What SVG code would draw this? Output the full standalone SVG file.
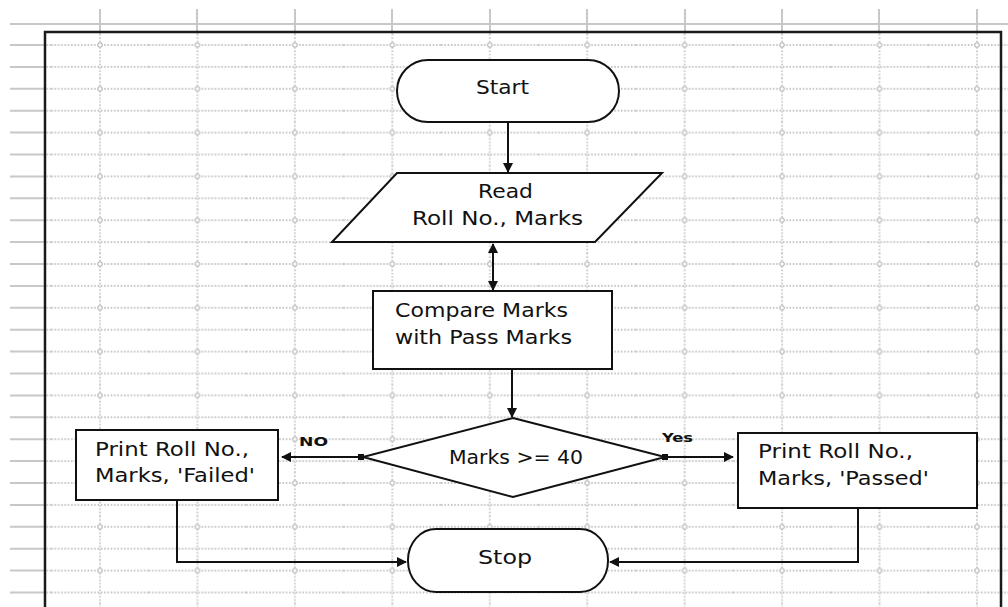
<svg xmlns="http://www.w3.org/2000/svg" xmlns:xlink="http://www.w3.org/1999/xlink" width="1008" height="607" viewBox="0 0 1008 607">
  <style>
    .shape { fill: #ffffff; stroke: #111111; stroke-width: 2; }
    .conn { fill: none; stroke: #111111; stroke-width: 2; }
    .lbl { font-family: "DejaVu Sans", "Liberation Sans", sans-serif; font-size: 19px; fill: #111111; }
    .small { font-family: "DejaVu Sans", "Liberation Sans", sans-serif; font-size: 13px; font-weight: bold; fill: #111111; }
    .dot { stroke: #b4b4b4; stroke-width: 1.3; stroke-dasharray: 1.6 1.7; fill: none; }
    .ruler { stroke: #c8c8c8; stroke-width: 2; fill: none; }
  </style>
  <defs>
    <pattern id="grid" patternUnits="userSpaceOnUse" x="51.28" y="34.05" width="97.44" height="43.8">
      <line class="dot" x1="0" y1="10.95" x2="97.44" y2="10.95"/>
      <line class="dot" x1="0" y1="32.85" x2="97.44" y2="32.85"/>
      <line class="dot" x1="48.72" y1="0" x2="48.72" y2="43.8"/>
      <circle cx="48.72" cy="10.95" r="2.2" fill="#ffffff" stroke="#b4b4b4" stroke-width="1"/>
    </pattern>
    <marker id="arrow" viewBox="0 0 10 10" refX="9" refY="5" markerWidth="10" markerHeight="10" markerUnits="userSpaceOnUse" orient="auto-start-reverse">
      <path d="M0 0 L10 5 L0 10 Z" fill="#111111"/>
    </marker>
    <marker id="tail" viewBox="0 0 6 6" refX="0" refY="3" markerWidth="6" markerHeight="6" markerUnits="userSpaceOnUse" orient="auto">
      <rect x="0" y="0" width="6" height="6" fill="#111111"/>
    </marker>
  </defs>

  <g id="background">
    <rect x="0" y="0" width="1008" height="607" fill="#ffffff"/>
    <rect x="45" y="32" width="963" height="575" fill="url(#grid)"/>
    <path class="ruler" d="M10 24H1008M100 9V32M197 9V32M295 9V32M392 9V32M490 9V32M587 9V32M685 9V32M782 9V32M879 9V32M977 9V32"/>
    <path class="ruler" stroke-width="1.6" d="M10 45H45M10 66.9H45M10 88.8H45M10 110.7H45M10 132.6H45M10 154.5H45M10 176.4H45M10 198.3H45M10 220.2H45M10 242.1H45M10 264H45M10 285.9H45M10 307.8H45M10 329.7H45M10 351.6H45M10 373.5H45M10 395.4H45M10 417.3H45M10 439.2H45M10 461.1H45M10 483H45M10 504.9H45M10 526.8H45M10 548.7H45M10 570.6H45M10 592.5H45"/>
    <path d="M45 610V32H1001V610" fill="none" stroke="#1a1a1a" stroke-width="2.5"/>
  </g>

  <g id="connectors">
    <path class="conn" d="M508 122V172" marker-end="url(#arrow)"/>
    <path class="conn" d="M493 244V290" marker-start="url(#arrow)" marker-end="url(#arrow)"/>
    <path class="conn" d="M512 369V417" marker-end="url(#arrow)"/>
    <path class="conn" d="M364 457H282" marker-start="url(#tail)" marker-end="url(#arrow)"/>
    <path class="conn" d="M662 457H733" marker-start="url(#tail)" marker-end="url(#arrow)"/>
    <path class="conn" d="M177 500V562H406" marker-end="url(#arrow)"/>
    <path class="conn" d="M858 508V562H610" marker-end="url(#arrow)"/>
    <text class="small" x="299" y="446" textLength="29" lengthAdjust="spacingAndGlyphs">NO</text>
    <text class="small" x="662" y="442" textLength="31" lengthAdjust="spacingAndGlyphs">Yes</text>
  </g>

  <g id="start">
    <rect class="shape" x="397" y="60" width="222" height="62" rx="31" ry="31"/>
    <text class="lbl" x="476" y="94" textLength="53" lengthAdjust="spacingAndGlyphs">Start</text>
  </g>

  <g id="read">
    <polygon class="shape" points="397,173 662,173 595,242 332,242"/>
    <text class="lbl" x="478" y="198" textLength="55" lengthAdjust="spacingAndGlyphs">Read</text>
    <text class="lbl" x="412" y="225" textLength="171" lengthAdjust="spacingAndGlyphs">Roll No., Marks</text>
  </g>

  <g id="compare">
    <rect class="shape" x="373" y="291" width="239" height="78"/>
    <text class="lbl" x="395" y="317" textLength="173" lengthAdjust="spacingAndGlyphs">Compare Marks</text>
    <text class="lbl" x="395" y="344" textLength="177" lengthAdjust="spacingAndGlyphs">with Pass Marks</text>
  </g>

  <g id="decision">
    <polygon class="shape" points="513,418 665,457 513,497 363,457"/>
    <text class="lbl" x="449" y="464" textLength="134" lengthAdjust="spacingAndGlyphs">Marks &gt;= 40</text>
  </g>

  <g id="failed">
    <rect class="shape" x="76" y="430" width="202" height="70"/>
    <text class="lbl" x="95" y="456" textLength="154" lengthAdjust="spacingAndGlyphs">Print Roll No.,</text>
    <text class="lbl" x="95" y="482" textLength="160" lengthAdjust="spacingAndGlyphs">Marks, 'Failed'</text>
  </g>

  <g id="passed">
    <rect class="shape" x="738" y="433" width="239" height="75"/>
    <text class="lbl" x="758" y="458" textLength="155" lengthAdjust="spacingAndGlyphs">Print Roll No.,</text>
    <text class="lbl" x="758" y="485" textLength="171" lengthAdjust="spacingAndGlyphs">Marks, 'Passed'</text>
  </g>

  <g id="stop">
    <rect class="shape" x="408" y="529" width="200" height="63" rx="28" ry="31"/>
    <text class="lbl" x="478" y="564" textLength="54" lengthAdjust="spacingAndGlyphs">Stop</text>
  </g>
</svg>
